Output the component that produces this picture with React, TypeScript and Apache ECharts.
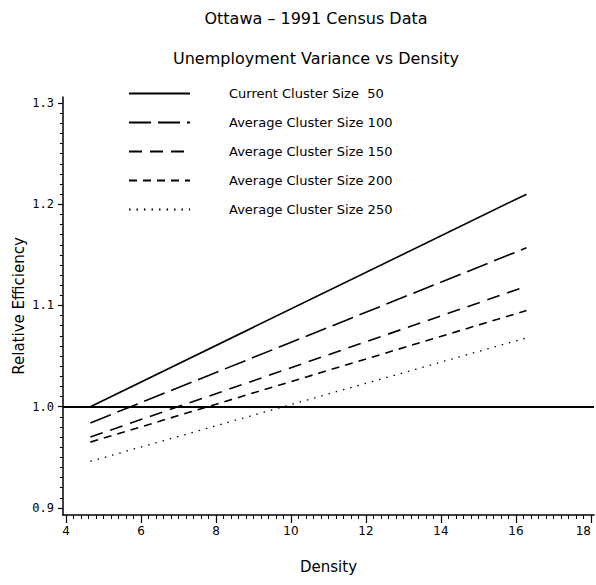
import React, { useEffect, useRef } from "react";
import * as echarts from "echarts";

const titleMain = "Ottawa \u2013 1991 Census Data";
const titleSub = "Unemployment Variance vs Density";
const seriesNames = [
  "Current Cluster Size  50",
  "Average Cluster Size 100",
  "Average Cluster Size 150",
  "Average Cluster Size 200",
  "Average Cluster Size 250",
];
const density = [4.65, 16.28];
const eff50 = [1.0, 1.21];
const eff100 = [0.984, 1.157];
const eff150 = [0.97, 1.119];
const eff200 = [0.965, 1.095];
const eff250 = [0.946, 1.068];
const yTickLabels = [0.9, 1.0, 1.1, 1.2, 1.3];
const xTickLabels = [4, 6, 8, 10, 12, 14, 16, 18];
const referenceLevel = 1.0;

const dashes: (string | number[])[] = ["solid", [22, 7], [13, 8], [8, 6], [1.5, 6]];

const yMinor: number[] = [];
for (let i = 90; i <= 130; i++) yMinor.push(i / 100);
const xMinor: number[] = [];
for (let i = 20; i <= 90; i++) xMinor.push(i / 5);

const FONT = "'DejaVu Sans', sans-serif";

export default function App() {
  const ref = useRef<HTMLDivElement>(null);
  useEffect(() => {
    if (!ref.current) return;
    document.body.style.margin = "0";
    const chart = echarts.init(ref.current, null, { renderer: "svg" });
    const allY = [eff50, eff100, eff150, eff200, eff250];
    const series: any[] = allY.map((vals, i) => ({
      name: seriesNames[i],
      type: "line",
      data: density.map((d, j) => [d, vals[j]]),
      symbol: "none",
      showSymbol: false,
      lineStyle: { color: "#000", width: i === 4 ? 1.3 : 1.6, type: dashes[i] },
      itemStyle: { color: "#000" },
      z: 3,
    }));
    series[0].markLine = {
      silent: true,
      symbol: "none",
      label: { show: false },
      lineStyle: { color: "#000", width: 2, type: "solid" },
      data: [{ yAxis: referenceLevel }],
    };
    const xCommon = {
      type: "value",
      min: 3.92,
      max: 18.08,
      splitLine: { show: false },
    };
    const yCommon = {
      type: "value",
      min: 0.893,
      max: 1.306,
      splitLine: { show: false },
    };
    chart.setOption({
      animation: false,
      backgroundColor: "#fff",
      graphic: [
        {
          type: "text",
          x: 316,
          y: 18,
          style: { text: titleMain, font: "16px " + FONT, fill: "#000", align: "center", verticalAlign: "middle" },
        },
        {
          type: "text",
          x: 316,
          y: 58,
          style: { text: titleSub, font: "16px " + FONT, fill: "#000", align: "center", verticalAlign: "middle" },
        },
      ],
      legend: {
        orient: "vertical",
        left: 123,
        top: 82,
        itemWidth: 61,
        itemHeight: 14,
        itemGap: 16,
        selectedMode: false,
        data: seriesNames,
        itemStyle: { opacity: 0 },
        textStyle: {
          fontFamily: FONT,
          fontSize: 13,
          color: "#000",
          padding: [0, 0, 0, 34],
        },
      },
      grid: { left: 63, top: 97, width: 531, height: 418, outerBoundsMode: "none", containLabel: false },
      xAxis: [
        {
          ...xCommon,
          name: "Density",
          nameLocation: "middle",
          nameGap: 44,
          nameMoveOverlap: false,
          nameTextStyle: { fontFamily: FONT, fontSize: 15, color: "#000" },
          axisLine: { show: true, onZero: false, lineStyle: { color: "#000", width: 1.5 } },
          axisTick: { show: true, length: 8, customValues: xTickLabels, lineStyle: { color: "#000", width: 1.2 } },
          axisLabel: {
            show: true,
            customValues: xTickLabels,
            margin: 10,
            color: "#000",
            fontFamily: FONT,
            fontSize: 12,
            alignMaxLabel: "right",
          },
        },
        {
          ...xCommon,
          position: "bottom",
          axisLine: { show: false, onZero: false },
          axisTick: { show: true, length: 4, customValues: xMinor, lineStyle: { color: "#000", width: 1 } },
          axisLabel: { show: false },
        },
      ],
      yAxis: [
        {
          ...yCommon,
          name: "Relative Efficiency",
          nameLocation: "middle",
          nameGap: 37,
          nameMoveOverlap: false,
          nameRotate: 90,
          nameTextStyle: { fontFamily: FONT, fontSize: 15, color: "#000" },
          axisLine: { show: true, onZero: false, lineStyle: { color: "#000", width: 1.5 } },
          axisTick: { show: true, length: 5, customValues: yTickLabels, lineStyle: { color: "#000", width: 1.2 } },
          axisLabel: {
            show: true,
            customValues: yTickLabels,
            margin: 9,
            color: "#000",
            fontFamily: "'DejaVu Sans Mono', monospace",
            fontSize: 12,
            formatter: (v: number) => v.toFixed(1),
          },
        },
        {
          ...yCommon,
          position: "left",
          axisLine: { show: false, onZero: false },
          axisTick: { show: true, length: 3, customValues: yMinor, lineStyle: { color: "#000", width: 1 } },
          axisLabel: { show: false },
        },
      ],
      series,
    });
    return () => chart.dispose();
  }, []);
  return <div ref={ref} style={{ width: 596, height: 585 }} />;
}
